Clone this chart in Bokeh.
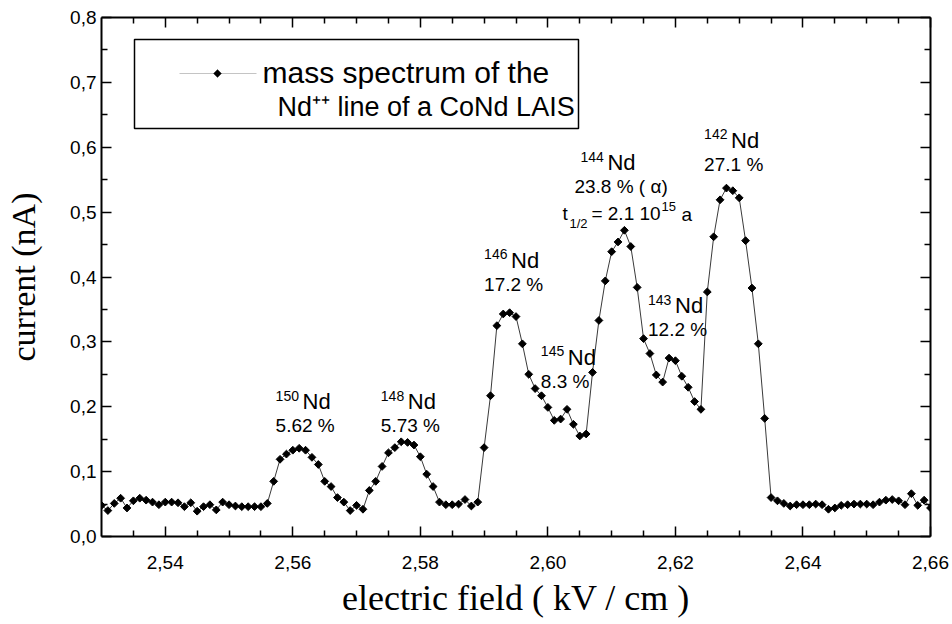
import numpy as np
from bokeh.plotting import figure
from bokeh.models import (Range1d, LinearAxis, FixedTicker, CustomJSTickFormatter,
                          ColumnDataSource, Label, BoxAnnotation, PolyAnnotation)
from bokeh.core.properties import value
from bokeh.embed import file_html
from bokeh.resources import INLINE

# ---------------- data ----------------
field = [
    2.530, 2.531, 2.532, 2.533, 2.534, 2.535, 2.536, 2.537, 2.538, 2.539,
    2.540, 2.541, 2.542, 2.543, 2.544, 2.545, 2.546, 2.547, 2.548, 2.549,
    2.550, 2.551, 2.552, 2.553, 2.554, 2.555, 2.556, 2.557, 2.558, 2.559,
    2.560, 2.561, 2.562, 2.563, 2.564, 2.565, 2.566, 2.567, 2.568, 2.569,
    2.570, 2.571, 2.572, 2.573, 2.574, 2.575, 2.576, 2.577, 2.578, 2.579,
    2.580, 2.581, 2.582, 2.583, 2.584, 2.585, 2.586, 2.587, 2.588, 2.589,
    2.590, 2.591, 2.592, 2.593, 2.594, 2.595, 2.596, 2.597, 2.598, 2.599,
    2.600, 2.601, 2.602, 2.603, 2.604, 2.605, 2.606, 2.607, 2.608, 2.609,
    2.610, 2.611, 2.612, 2.613, 2.614, 2.615, 2.616, 2.617, 2.618, 2.619,
    2.620, 2.621, 2.622, 2.623, 2.624, 2.625, 2.626, 2.627, 2.628, 2.629,
    2.630, 2.631, 2.632, 2.633, 2.634, 2.635, 2.636, 2.637, 2.638, 2.639,
    2.640, 2.641, 2.642, 2.643, 2.644, 2.645, 2.646, 2.647, 2.648, 2.649,
    2.650, 2.651, 2.652, 2.653, 2.654, 2.655, 2.656, 2.657, 2.658, 2.659,
    2.660,
]
current = [
    0.048, 0.040, 0.051, 0.059, 0.044, 0.055, 0.059, 0.056, 0.053, 0.049,
    0.053, 0.053, 0.052, 0.046, 0.052, 0.039, 0.046, 0.049, 0.041, 0.053,
    0.049, 0.047, 0.046, 0.046, 0.046, 0.046, 0.051, 0.085, 0.119, 0.127,
    0.133, 0.136, 0.133, 0.122, 0.111, 0.085, 0.077, 0.060, 0.053, 0.040,
    0.048, 0.042, 0.071, 0.085, 0.108, 0.129, 0.137, 0.146, 0.145, 0.141,
    0.123, 0.096, 0.077, 0.053, 0.049, 0.049, 0.050, 0.057, 0.047, 0.053,
    0.137, 0.217, 0.325, 0.343, 0.345, 0.339, 0.297, 0.250, 0.228, 0.217,
    0.199, 0.179, 0.181, 0.196, 0.173, 0.155, 0.158, 0.253, 0.333, 0.394,
    0.439, 0.454, 0.472, 0.447, 0.384, 0.305, 0.282, 0.249, 0.238, 0.275,
    0.271, 0.247, 0.230, 0.208, 0.196, 0.377, 0.462, 0.519, 0.537, 0.533,
    0.522, 0.456, 0.383, 0.297, 0.182, 0.060, 0.055, 0.051, 0.047, 0.049,
    0.049, 0.049, 0.050, 0.049, 0.042, 0.044, 0.048, 0.049, 0.050, 0.050,
    0.050, 0.049, 0.053, 0.056, 0.057, 0.055, 0.049, 0.066, 0.048, 0.056,
    0.044,
]

x_major = [2.54, 2.56, 2.58, 2.60, 2.62, 2.64, 2.66]
x_minor = [2.535, 2.545, 2.55, 2.555, 2.565, 2.57, 2.575, 2.585, 2.59, 2.595,
           2.605, 2.61, 2.615, 2.625, 2.63, 2.635, 2.645, 2.65, 2.655]
y_major = [0.0, 0.1, 0.2, 0.3, 0.4, 0.5, 0.6, 0.7, 0.8]
y_minor = [0.05, 0.15, 0.25, 0.35, 0.45, 0.55, 0.65, 0.75]

# isotope annotations
iso_mass = ["150", "148", "146", "145", "143", "144", "142"]
iso_abund = ["5.62 %", "5.73 %", "17.2 %", "8.3 %", "12.2 %", "23.8 % ( α)", "27.1 %"]
iso_x = [2.5573, 2.5738, 2.5900, 2.5989, 2.6157, 2.6051, 2.6245]
iso_y = [0.2173, 0.2173, 0.4347, 0.2852, 0.3653, 0.5857, 0.6197]

x_title = "electric field ( kV / cm )"
y_title = "current (nA)"
legend_line1 = "mass spectrum of the"
legend_line2 = "Nd\u207a\u207a line of a CoNd LAIS"

# ---------------- figure ----------------
p = figure(width=952, height=624, output_backend="svg", toolbar_location=None,
           x_range=Range1d(2.53, 2.66), y_range=Range1d(0.0, 0.8),
           min_border_left=101, min_border_right=22, min_border_top=17,
           min_border_bottom=88, x_axis_location=None, y_axis_location=None)
p.grid.visible = False
p.outline_line_color = None
p.background_fill_color = "white"
p.border_fill_color = "white"

SANS = "Liberation Sans"
SERIF = "Liberation Serif"

def style_axis(ax, ticks, minors, fmt, show_labels):
    ax.ticker = FixedTicker(ticks=ticks, minor_ticks=minors)
    ax.axis_line_width = 2
    ax.axis_line_color = "black"
    ax.major_tick_in = 10
    ax.major_tick_out = 0
    ax.minor_tick_in = 6
    ax.minor_tick_out = 0
    ax.major_tick_line_width = 1.5
    ax.minor_tick_line_width = 1.5
    ax.major_tick_line_color = "black"
    ax.minor_tick_line_color = "black"
    if show_labels:
        ax.formatter = CustomJSTickFormatter(code=fmt)
        ax.major_label_text_font = SANS
        ax.major_label_text_font_size = "19px"
        ax.major_label_text_color = "black"
    else:
        ax.formatter = CustomJSTickFormatter(code="return ''")
        ax.major_label_standoff = 0
        ax.major_label_text_font_size = "1px"

xb = LinearAxis()
style_axis(xb, x_major, x_minor, "return tick.toFixed(2).replace('.', ',')", True)
xb.major_label_standoff = 19
xb.axis_label = x_title
xb.axis_label_text_font = SERIF
xb.axis_label_text_font_size = "36px"
xb.axis_label_text_font_style = "normal"
xb.axis_label_text_color = "black"
xb.axis_label_standoff = 6
p.add_layout(xb, "below")

xt = LinearAxis()
style_axis(xt, x_major, x_minor, "", False)
p.add_layout(xt, "above")

yl = LinearAxis()
style_axis(yl, y_major, y_minor, "return tick.toFixed(1).replace('.', ',')", True)
yl.major_label_standoff = 5
yl.axis_label = y_title
yl.axis_label_text_font = SERIF
yl.axis_label_text_font_size = "34px"
yl.axis_label_text_font_style = "normal"
yl.axis_label_text_color = "black"
yl.axis_label_standoff = 25
p.add_layout(yl, "left")

yr = LinearAxis()
style_axis(yr, y_major, y_minor, "", False)
p.add_layout(yr, "right")

# ---------------- data series ----------------
src = ColumnDataSource(dict(x=field, y=current))
p.line("x", "y", source=src, line_color="#3a3a3a", line_width=1)
p.scatter("x", "y", source=src, marker="square", angle=np.pi / 4, size=5.5,
          fill_color="black", line_color="black")

# ---------------- isotope annotations ----------------
sup_src = ColumnDataSource(dict(x=iso_x, y=iso_y, t=iso_mass))
p.text("x", "y", text="t", source=sup_src, text_font=value(SANS), text_font_size="14px",
       text_align="left", text_baseline="middle", text_color="black")
nd_src = ColumnDataSource(dict(x=iso_x, y=iso_y, t=["Nd"] * len(iso_x)))
p.text("x", "y", text="t", source=nd_src, x_offset=27, y_offset=6,
       text_font=value(SANS), text_font_size="22px",
       text_align="left", text_baseline="middle", text_color="black")
ab_dx = [0 if m != "144" else -6 for m in iso_mass]
ab_src = ColumnDataSource(dict(x=iso_x, y=iso_y, t=iso_abund, dx=ab_dx))
p.text("x", "y", text="t", source=ab_src, x_offset="dx", y_offset=30,
       text_font=value(SANS), text_font_size="19px",
       text_align="left", text_baseline="middle", text_color="black")

# half-life line under 144Nd
k = iso_mass.index("144")
hl_parts = ["t", "1/2", "= 2.1 10", "15", "a"]
hl_dx = [-18, -11, 11, 81, 101]
hl_dy = [57, 67, 57, 50, 58]
hl_fs = ["19px", "13px", "19px", "13px", "19px"]
for t, dx, dy, fs in zip(hl_parts, hl_dx, hl_dy, hl_fs):
    s = ColumnDataSource(dict(x=[iso_x[k]], y=[iso_y[k]], t=[t]))
    p.text("x", "y", text="t", source=s, x_offset=dx, y_offset=dy,
           text_font=value(SANS), text_font_size=fs,
           text_align="left", text_baseline="middle", text_color="black")

# ---------------- legend (drawn as in the original) ----------------
p.add_layout(BoxAnnotation(left=33, right=477, top=497, bottom=408,
                           left_units="screen", right_units="screen",
                           top_units="screen", bottom_units="screen",
                           fill_color="white", fill_alpha=1.0,
                           line_color="black", line_width=1.5, line_alpha=1.0))
p.add_layout(PolyAnnotation(xs=[78, 155], ys=[463, 463], xs_units="screen", ys_units="screen",
                            line_color="#3a3a3a", line_width=1, fill_alpha=0))
p.add_layout(PolyAnnotation(xs=[112, 116, 120, 116], ys=[463, 467, 463, 459],
                            xs_units="screen", ys_units="screen",
                            line_color="black", line_width=1, fill_color="black", fill_alpha=1))
p.add_layout(Label(x=161, y=464, x_units="screen", y_units="screen", text=legend_line1,
                   text_align="left", text_baseline="middle",
                   text_font=SANS, text_font_size="30px", text_color="black"))
p.add_layout(Label(x=176, y=430, x_units="screen", y_units="screen", text=legend_line2,
                   text_align="left", text_baseline="middle",
                   text_font=SANS, text_font_size="27px", text_color="black"))

open("out.html", "w").write(file_html(p, INLINE))
